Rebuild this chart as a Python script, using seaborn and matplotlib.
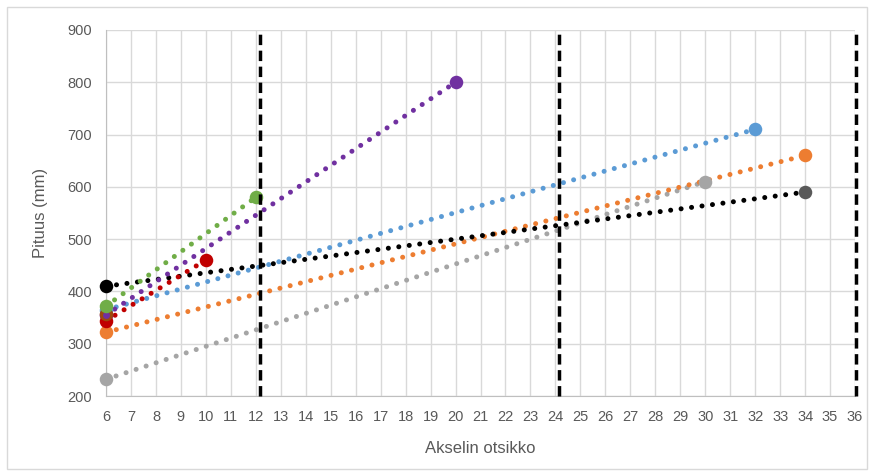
import matplotlib.pyplot as plt
import matplotlib.patches as mpatches
import seaborn as sns
import pandas as pd

# series: start and end of each trend line
series = ['gray', 'orange', 'blue', 'black', 'purple', 'green', 'red']
x_start = [6, 6, 6, 6, 6, 6, 6]
y_start = [232, 322, 365, 410, 355, 372, 344]
x_end = [30, 34, 32, 34, 20, 12, 10]
y_end = [610, 660, 710, 590, 800, 580, 460]
line_colors = ['#A5A5A5', '#ED7D31', '#5B9BD5', '#000000', '#7030A0', '#70AD47', '#C00000']
start_colors = ['#A5A5A5', '#ED7D31', '#5B9BD5', '#000000', '#7030A0', '#70AD47', '#C00000']
end_colors = ['#A5A5A5', '#ED7D31', '#5B9BD5', '#595959', '#7030A0', '#70AD47', '#C00000']

# extra marker (brown) at x=6
extra_x = [6]
extra_y = [356]

limits = [12.15, 24.15, 36.05]

rows = []
for s, x0, y0, x1, y1 in zip(series, x_start, y_start, x_end, y_end):
    rows.append({'series': s, 'x': x0, 'y': y0})
    rows.append({'series': s, 'x': x1, 'y': y1})
df = pd.DataFrame(rows)
pal = dict(zip(series, line_colors))

sns.set_style('white')
plt.rcParams['font.family'] = ['Liberation Sans Narrow', 'Liberation Sans', 'DejaVu Sans']

fig = plt.figure(figsize=(8.74, 4.76), dpi=100)
ax = fig.add_axes([0.1213, 0.168, 0.857, 0.769])
fig.patches.append(mpatches.Rectangle((0.008, 0.015), 0.984, 0.97, transform=fig.transFigure,
                                      fill=False, edgecolor='#D9D9D9', linewidth=1))

sns.lineplot(data=df, x='x', y='y', hue='series', palette=pal, ax=ax, legend=False,
             linewidth=3.6, linestyle=(0, (0.01, 2.1)), dash_capstyle='round', zorder=3)

starts = pd.DataFrame({'x': x_start, 'y': y_start, 'c': start_colors})
ends = pd.DataFrame({'x': x_end, 'y': y_end, 'c': end_colors})
order = [2, 4, 1, 6, 0, 5, 3]
starts = starts.iloc[order]
for _, r in starts.iterrows():
    ax.scatter(r.x, r.y, s=95, color=r.c, zorder=4, linewidth=0, clip_on=False)
    if r.c == '#C00000':
        ax.scatter(extra_x, extra_y, s=95, color='#9E480E', zorder=4, linewidth=0, clip_on=False)
        ax.scatter(extra_x, [355], s=25, color='#7030A0', zorder=4, linewidth=0, clip_on=False)
for _, r in ends.iterrows():
    ax.scatter(r.x, r.y, s=95, color=r.c, zorder=4, linewidth=0, clip_on=False)

for lx in limits:
    ax.axvline(lx, color='black', linewidth=2.5, linestyle=(0, (3, 1.6)), zorder=6, clip_on=False)

ax.set_xlim(6, 36)
ax.set_ylim(200, 900)
ax.set_xticks(range(6, 37))
ax.set_yticks(range(200, 901, 100))
ax.grid(True, color='#D9D9D9', linewidth=1)
ax.set_axisbelow(True)
for side in ['top', 'right']:
    ax.spines[side].set_visible(False)
for side in ['left', 'bottom']:
    ax.spines[side].set_color('#BFBFBF')
ax.tick_params(axis='both', length=0, colors='#595959', labelsize=10.5, pad=10)
ax.set_xlabel('Akselin otsikko', color='#595959', fontsize=12, labelpad=12)
ax.set_ylabel('Pituus (mm)', color='#595959', fontsize=12, labelpad=14)

fig.savefig('out.png', dpi=100)
